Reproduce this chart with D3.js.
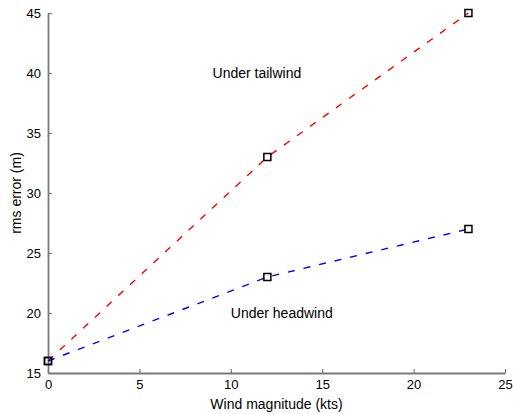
<!DOCTYPE html>
<html>
<head>
<meta charset="utf-8">
<script src="https://cdn.jsdelivr.net/npm/d3@7"></script>
<style>
    body { margin: 0; background: #fff; }
    svg { font-family: "Liberation Sans", Arial, Helvetica, sans-serif; }
    .axis path, .axis line { stroke: #7a7a7a; stroke-width: 1.8px; }
    .axis line { stroke-width: 1.2px; }
    .axis text { fill: #000; font-size: 13px; }
</style>
</head>
<body>
<div id="chart"></div>
<script>

// Wind magnitude (kts) vs rms error (m)
let windSpeeds = [0, 12, 23];
let tailwindError = [16, 33, 45];
let headwindError = [16, 23, 27];

let xTicks = [0, 5, 10, 15, 20, 25];
let yTicks = [15, 20, 25, 30, 35, 40, 45];

let annotations = [
    { x: 9, y: 40, label: "Under tailwind" },
    { x: 10, y: 20, label: "Under headwind" }
];

let margin = { top: 13, right: 8, bottom: 41, left: 48 };
let width = 513 - margin.left - margin.right;
let height = 414 - margin.top - margin.bottom;

let svg = d3.select("#chart").append("svg")
    .attr("width", 513)
    .attr("height", 414)
    .append("g")
    .attr("transform", "translate(" + margin.left + "," + margin.top + ")");

let x = d3.scaleLinear()
    .domain([0, 25])
    .range([0, width]);

let y = d3.scaleLinear()
    .domain([15, 45])
    .range([height, 0]);

// axes, ticks pointing inward like matlab
let xAxis = d3.axisBottom(x)
    .tickValues(xTicks)
    .tickSizeInner(-4)
    .tickSizeOuter(0)
    .tickPadding(7);

let yAxis = d3.axisLeft(y)
    .tickValues(yTicks)
    .tickSizeInner(-4)
    .tickSizeOuter(0)
    .tickPadding(7);

svg.append("g")
    .attr("class", "x-axis axis")
    .attr("transform", "translate(0," + height + ")")
    .call(xAxis);

svg.append("g")
    .attr("class", "y-axis axis")
    .call(yAxis);

svg.selectAll(".y-axis text").attr("dy", "0.36em");

svg.append("text")
    .attr("x", width / 2)
    .attr("y", height + 35.5)
    .attr("text-anchor", "middle")
    .style("font-size", "14px")
    .text("Wind magnitude (kts)");

svg.append("text")
    .attr("transform", "rotate(-90)")
    .attr("x", -height / 2)
    .attr("y", -27)
    .attr("text-anchor", "middle")
    .style("font-size", "14px")
    .text("rms error (m)");

let line = d3.line()
    .x(function(d) { return x(d[0]); })
    .y(function(d) { return y(d[1]); });

let series = [
    { values: tailwindError, color: "#ff0000" },
    { values: headwindError, color: "#0000ff" }
];

series.forEach(function(s) {
    let pts = windSpeeds.map(function(w, i) { return [w, s.values[i]]; });

    svg.append("path")
        .datum(pts)
        .attr("d", line)
        .attr("fill", "none")
        .attr("stroke", s.color)
        .attr("stroke-width", 1.4)
        .attr("stroke-dasharray", "7,9");

    svg.selectAll(null)
        .data(pts)
        .enter().append("rect")
        .attr("x", function(d) { return x(d[0]) - 3.5; })
        .attr("y", function(d) { return y(d[1]) - 3.5; })
        .attr("width", 7)
        .attr("height", 7)
        .attr("fill", "none")
        .attr("stroke", "#000")
        .attr("stroke-width", 1.5);
});

svg.selectAll(".note")
    .data(annotations)
    .enter().append("text")
    .attr("class", "note")
    .attr("x", function(d) { return x(d.x); })
    .attr("y", function(d) { return y(d.y); })
    .attr("dy", "0.36em")
    .style("font-size", "14px")
    .text(function(d) { return d.label; });

</script>
</body>
</html>
